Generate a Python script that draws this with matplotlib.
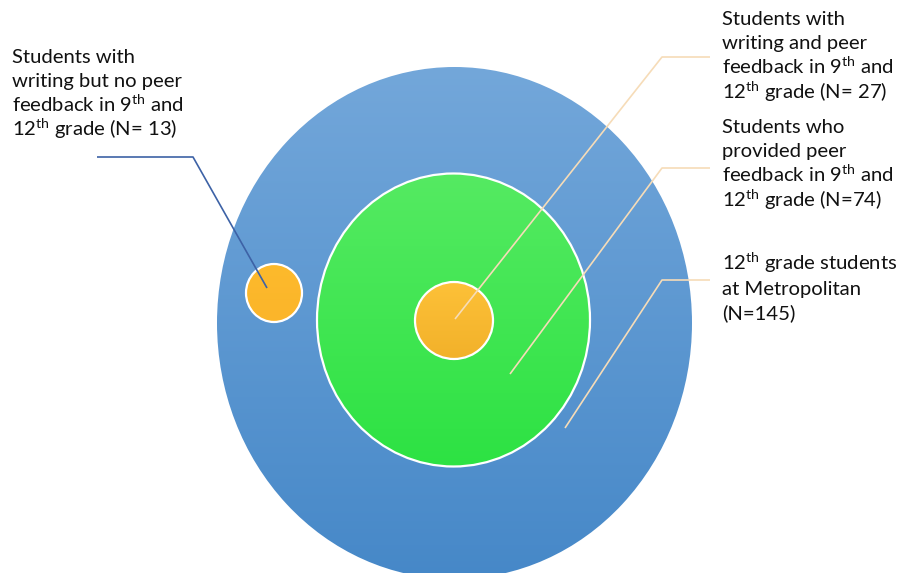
import numpy as np
import matplotlib.pyplot as plt
from matplotlib.patches import Ellipse
from matplotlib.colors import LinearSegmentedColormap

plt.rcParams['font.family'] = ['Lato', 'DejaVu Sans']
plt.rcParams['mathtext.fontset'] = 'custom'
plt.rcParams['mathtext.rm'] = 'Lato'

## data: groups and their sizes
groups = ['12th grade students at Metropolitan',
          'Students who provided peer feedback in 9th and 12th grade',
          'Students with writing and peer feedback in 9th and 12th grade',
          'Students with writing but no peer feedback in 9th and 12th grade']
counts = [145, 74, 27, 13]

TH = r'$^{\mathrm{th}}$'
label_lines = [
    ['12' + TH + ' grade students', 'at Metropolitan', '(N=%d)' % counts[0]],
    ['Students who', 'provided peer', 'feedback in 9' + TH + ' and',
     '12' + TH + ' grade (N=%d)' % counts[1]],
    ['Students with', 'writing and peer', 'feedback in 9' + TH + ' and',
     '12' + TH + ' grade (N= %d)' % counts[2]],
    ['Students with', 'writing but no peer', 'feedback in 9' + TH + ' and',
     '12' + TH + ' grade (N= %d)' % counts[3]],
]

# layout (pixel coords, y downwards)
shapes = [
    # cx, cy, w, h, top colour, bottom colour, edge
    (454.5, 323, 475, 512, '#73a7da', '#4688c8', 'none'),
    (453.5, 320, 273, 293, '#55ea62', '#2de243', 'white'),
    (454, 320.5, 78, 77, '#fdc138', '#f2b12a', 'white'),
    (274, 293, 56, 58, '#fdba2c', '#fbb52a', 'white'),
]
# leader lines: (text x, first baseline y, elbow x, elbow y, line end x, end y, target x, target y, colour)
leaders = [
    (722, 270, 710, 280, 662, 280, 565, 428, '#f6dcb8'),
    (722, 133, 710, 168, 662, 168, 510, 374, '#f6dcb8'),
    (722, 25, 710, 57, 662, 57, 455, 319, '#f6dcb8'),
    (12, 62.7, 97, 157, 193, 157, 267, 288, '#3d62a6'),
]
line_step = 24.5

fig = plt.figure(figsize=(9.02, 5.73), dpi=100)
ax = fig.add_axes([0, 0, 1, 1])
ax.axis('off')

grad = np.linspace(0, 1, 256).reshape(-1, 1)
for cx, cy, w, h, c_top, c_bot, ec in shapes:
    el = Ellipse((cx, cy), w, h, facecolor='none', edgecolor=ec, linewidth=1.6, zorder=3)
    ax.add_patch(el)
    cmap = LinearSegmentedColormap.from_list('g', [c_top, c_bot])
    im = ax.imshow(grad, cmap=cmap, aspect='auto', zorder=2,
                   extent=(cx - w / 2, cx + w / 2, cy + h / 2, cy - h / 2))
    im.set_clip_path(el)

ax.set_xlim(0, 902)
ax.set_ylim(573, 0)

for lines, (tx, ty, x0, y0, x1, y1, x2, y2, col) in zip(label_lines, leaders):
    ax.plot([x0, x1, x2], [y0, y1, y2], color=col, linewidth=1.2, zorder=4,
            solid_capstyle='butt')
    for i, s in enumerate(lines):
        ax.text(tx, ty + i * line_step, s, fontsize=14.6, color='#111111',
                va='baseline', ha='left', zorder=5)

fig.savefig('out.png', dpi=100)
